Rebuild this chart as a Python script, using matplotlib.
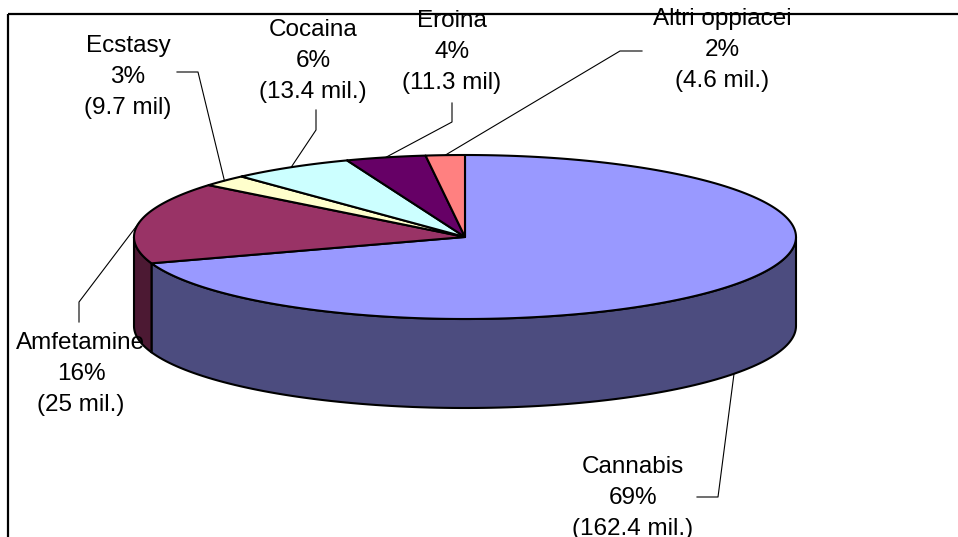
import numpy as np
import matplotlib
matplotlib.use("Agg")
import matplotlib.pyplot as plt
from matplotlib.patches import Polygon

plt.rcParams["font.family"] = ["Liberation Sans", "DejaVu Sans"]

names = ["Cannabis", "Amfetamine", "Ecstasy", "Cocaina", "Eroina", "Altri oppiacei"]
shares = [69.8, 16.1, 2.3, 6.0, 3.9, 1.9]
pct_labels = ["69%", "16%", "3%", "6%", "4%", "2%"]
amount_labels = ["(162.4 mil.)", "(25 mil.)", "(9.7 mil)", "(13.4 mil.)",
                 "(11.3 mil)", "(4.6 mil.)"]
top_colors = ["#9999FF", "#993366", "#FFFFCC", "#CCFFFF", "#660066", "#FF8080"]
side_colors = ["#4C4C7F", "#4C1933", "#7F7F66", "#667F7F", "#330033", "#7F4040"]

# layout in pixels (axes spans the whole figure, y pointing down)
W, H = 958, 537
CX, CY, RX, RY, DEPTH = 465, 237, 331, 82, 89
LINE = 31

# centre of each label's middle line, and the two leader elbow points
label_pos = [(633, 498), (81, 374), (128, 77), (313, 61), (452, 52), (722, 50)]
elbows = [[(697, 497), (718, 497)], [(79, 322), (79, 302)],
          [(177, 72), (198, 72)], [(316, 110), (316, 130)],
          [(452, 103), (452, 122)], [(642, 51), (620, 51)]]


def rim(t_deg, drop=0.0):
    """point(s) on the pie rim, angle clockwise from 12 o'clock"""
    t = np.radians(t_deg)
    return CX + RX * np.sin(t), CY - RY * np.cos(t) + drop


fig = plt.figure(figsize=(W / 100, H / 100), dpi=100)
ax = fig.add_axes([0, 0, 1, 1])
ax.set_xlim(0, W)
ax.set_ylim(H, 0)
ax.axis("off")

bounds = np.concatenate([[0], np.cumsum(shares) / np.sum(shares) * 360])

# outer walls, only the front half (90..270 deg) is visible
for i in range(len(shares)):
    lo, hi = max(bounds[i], 90), min(bounds[i + 1], 270)
    if lo >= hi:
        continue
    ts = np.linspace(lo, hi, 120)
    xt, yt = rim(ts)
    xb, yb = rim(ts[::-1], DEPTH)
    pts = np.column_stack([np.r_[xt, xb], np.r_[yt, yb]])
    ax.add_patch(Polygon(pts, closed=True, facecolor=side_colors[i],
                         edgecolor="black", linewidth=1.5, joinstyle="round", zorder=1))

# top faces
for i in range(len(shares)):
    ts = np.linspace(bounds[i], bounds[i + 1], 200)
    xs, ys = rim(ts)
    pts = np.column_stack([np.r_[CX, xs], np.r_[CY, ys]])
    ax.add_patch(Polygon(pts, closed=True, facecolor=top_colors[i],
                         edgecolor="black", linewidth=1.5, joinstyle="round", zorder=2))

# leader lines + labels
for i in range(len(shares)):
    mid = (bounds[i] + bounds[i + 1]) / 2
    drop = DEPTH if 90 < mid < 270 else 0
    ax_, ay_ = rim(mid, drop)
    (x0, y0), (x1, y1) = elbows[i]
    ax.plot([x0, x1, ax_], [y0, y1, ay_], color="black", linewidth=0.8, zorder=4)
    lx, ly = label_pos[i]
    for k, s in enumerate([names[i], pct_labels[i], amount_labels[i]]):
        ax.text(lx, ly + (k - 1) * LINE, s, ha="center", va="center",
                fontsize=17.5, color="black", zorder=5)

# chart-area frame (top and left edges visible in the crop)
ax.plot([8, W], [14, 14], color="black", linewidth=1.6, zorder=6,
        solid_capstyle="butt")
ax.plot([8, 8], [14, H], color="black", linewidth=1.6, zorder=6,
        solid_capstyle="butt")

fig.savefig("out.png", dpi=100)
